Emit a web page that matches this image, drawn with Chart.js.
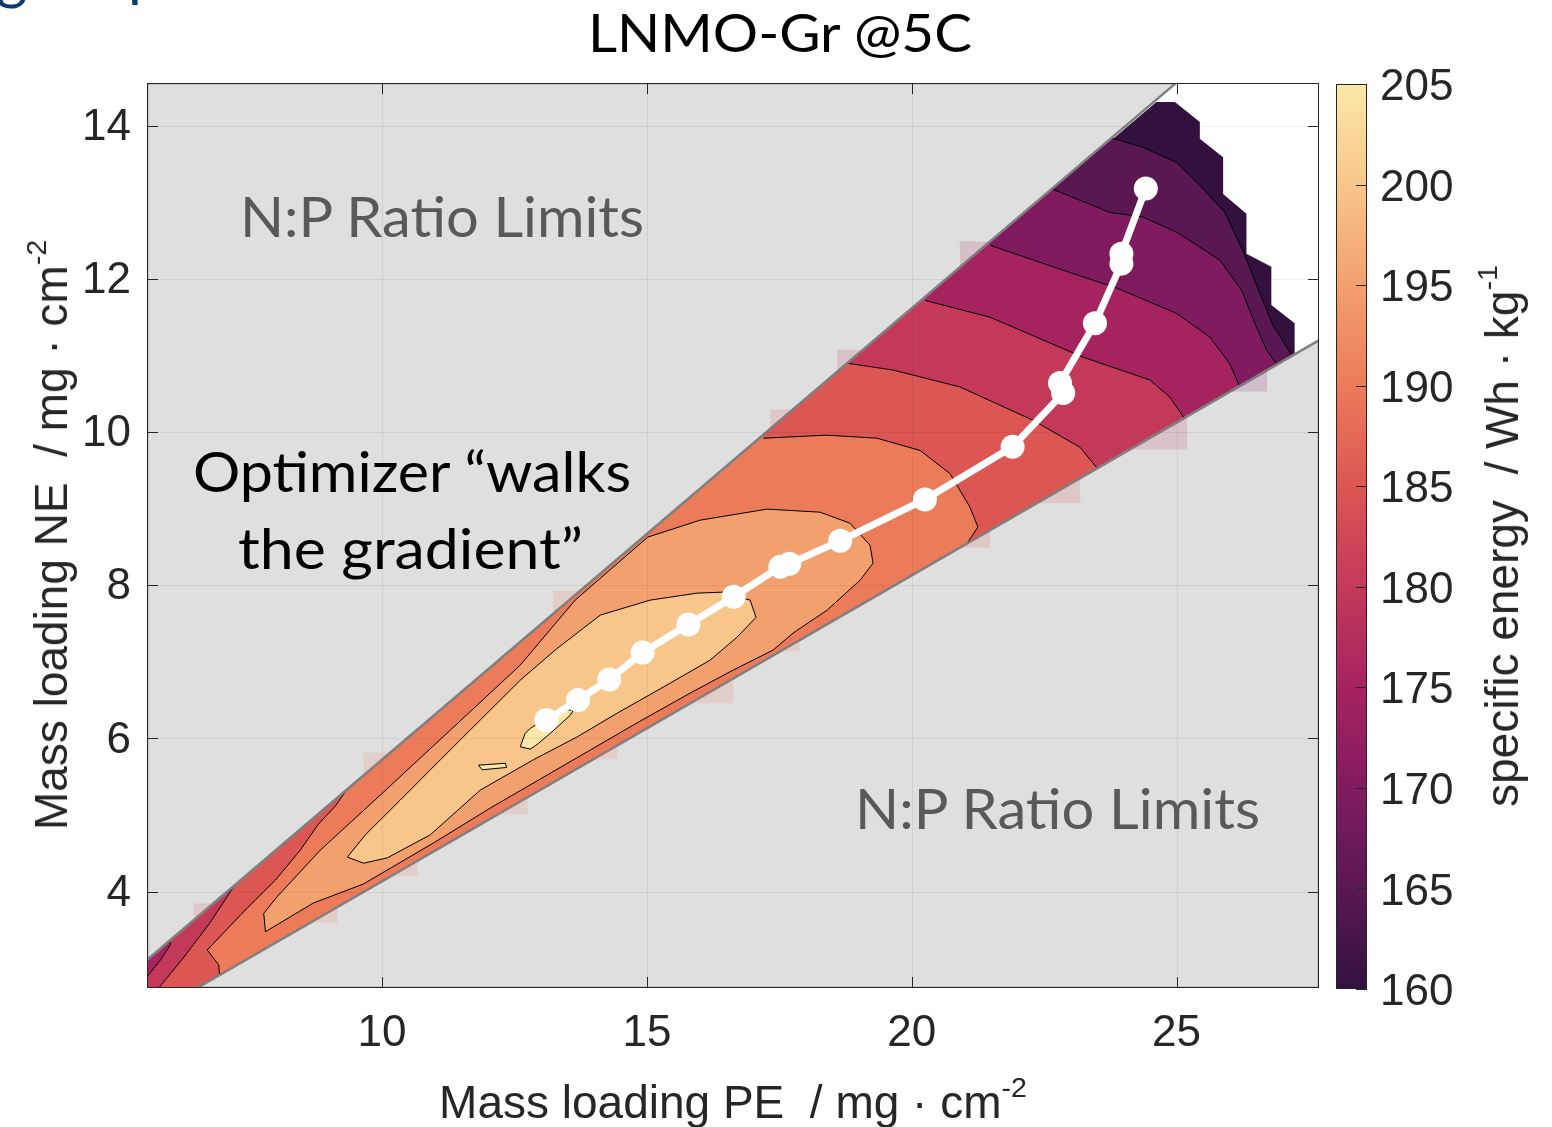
<!DOCTYPE html>
<html>
<head>
<meta charset="utf-8">
<script src="https://cdn.jsdelivr.net/npm/chart.js@4.4.1/dist/chart.umd.min.js"></script>
<style>
  html, body { margin: 0; padding: 0; background: #fff; }
  body { width: 1552px; height: 1127px; position: relative; overflow: hidden; }
  canvas { position: absolute; top: 0; }
  #map { left: 0; }
  #bar { left: 1300px; }
  .lbl { position: absolute; white-space: pre; line-height: 1; transform-origin: 0 0; }
  .cal { font-family: Lato, 'Open Sans', sans-serif; }
  .ax { font-family: 'Liberation Sans', Arial, sans-serif; font-size: 46px; color: #262626; }
  .rot { transform-origin: 50% 50%; transform: translate(-50%, -50%) rotate(-90deg); }
  .sup { font-size: 0.62em; position: relative; top: -0.72em; }
</style>
</head>
<body>
<canvas id="map" width="1552" height="1127"></canvas>
<canvas id="bar" width="252" height="1127"></canvas>

<div class="lbl cal" style="left:-4px; top:-55px; font-size:60px; color:#0b3b6b;">g</div>
<div class="lbl cal" style="left:128px; top:-58px; font-size:60px; color:#0b3b6b;">p</div>

<div class="lbl cal" data-w="384" style="left:588px; top:6px; font-size:52px; color:#000;">LNMO-Gr @5C</div>
<div class="lbl cal" data-w="404" style="left:240px; top:188px; font-size:56px; color:#595959;">N:P Ratio Limits</div>
<div class="lbl cal" data-w="405" style="left:855px; top:780px; font-size:56px; color:#595959;">N:P Ratio Limits</div>
<div class="lbl cal" data-w="438" style="left:193px; top:443px; font-size:56px; color:#000;">Optimizer “walks</div>
<div class="lbl cal" data-w="345" style="left:238px; top:520px; font-size:56px; color:#000;">the gradient”</div>

<div class="lbl ax" style="left:733px; top:1079px; transform:translateX(-50%);">Mass loading PE  / mg · cm<span class="sup">-2</span></div>
<div class="lbl ax rot" style="left:51px; top:535px;">Mass loading NE  / mg · cm<span class="sup">-2</span></div>
<div class="lbl ax rot" style="left:1502px; top:536px;">specific energy  / Wh · kg<span class="sup">-1</span></div>

<script>
// axis limits and ticks
const xMin = 5.562, xMax = 27.69, yMin = 2.74, yMax = 14.559;
const xTicks = [10, 15, 20, 25];
const yTicks = [4, 6, 8, 10, 12, 14];
const cbTicks = [160, 165, 170, 175, 180, 185, 190, 195, 200, 205];

// contour levels (Wh/kg) and their fill colours
const levels = [160, 165, 170, 175, 180, 185, 190, 195, 200, 205];
const levelColors = ['#32113f', '#5a1853', '#811b60', '#a5235f', '#c4395a',
                     '#dc5653', '#ec7b5a', '#f3a06f', '#f8c68a', '#fbe8a8'];

// superlevel regions (PE, NE), one ring per level
const region160 = [[4.0, 2.186], [24.62, 14.31], [24.97, 14.31], [25.44, 14.05], [25.44, 13.83],
  [25.88, 13.59], [25.88, 13.11], [26.32, 12.85], [26.32, 12.33], [26.79, 12.16], [26.79, 11.66],
  [27.23, 11.42], [27.23, 11.03], [4.0, 1.738]];
const region165 = [[23.80, 13.837], [24.36, 13.72], [25.005, 13.52], [25.44, 13.223], [25.91, 12.87],
  [26.25, 12.374], [26.55, 11.852], [26.82, 11.395], [27.18, 11.0], [27.5, 10.3], [4.0, 1.0],
  [4.0, 4.0], [23.4, 14.8]];
const region170 = [[22.67, 13.17], [23.74, 12.87], [24.36, 12.81], [25.005, 12.61], [25.82, 12.245],
  [26.23, 11.85], [26.48, 11.42], [26.70, 11.07], [26.89, 10.89], [27.1, 10.2], [4.0, 1.0], [4.0, 4.0], [22.3, 14.2]];
const region175 = [[21.48, 12.44], [22.855, 12.115], [23.875, 11.88], [25.005, 11.55], [25.63, 11.24],
  [26.00, 10.90], [26.19, 10.60], [26.4, 9.8], [4.0, 1.0], [4.0, 4.0], [21.0, 13.5]];
const region180 = [[20.25, 11.72], [21.48, 11.50], [23.23, 10.98], [24.50, 10.68], [24.875, 10.455],
  [25.12, 10.21], [25.3, 9.5], [7.0, 2.0], [5.40, 2.60], [5.565, 2.89], [5.81, 3.10], [6.0, 3.30],
  [6.0, 4.0], [20.0, 12.5]];
const region185 = [[18.78, 10.90], [19.65, 10.81], [20.91, 10.59], [22.29, 10.155], [23.18, 9.80],
  [23.50, 9.53], [23.6, 9.0], [8.0, 2.0], [5.70, 2.60], [5.785, 2.74], [6.29, 3.17], [6.76, 3.60],
  [7.195, 4.06], [7.6, 5.0], [18.5, 11.5]];
const region190 = [[17.20, 9.92], [18.40, 9.96], [19.345, 9.92], [20.16, 9.76], [20.72, 9.46],
  [21.10, 9.02], [21.25, 8.76], [21.01, 8.51], [21.0, 8.0], [7.0, 2.3], [6.917, 3.04], [6.70, 3.236],
  [7.326, 3.693], [7.987, 4.15], [8.458, 4.542], [8.798, 4.881], [9.119, 5.116], [9.59, 5.586],
  [16.9, 10.5]];
const region195 = [[7.766, 3.715], [8.019, 3.932], [8.836, 4.542], [9.968, 5.26], [11.289, 6.108],
  [12.609, 6.957], [13.647, 7.806], [15.015, 8.628], [16.006, 8.85], [17.27, 8.994], [18.27, 8.954],
  [18.836, 8.81], [19.213, 8.523], [19.27, 8.288], [19.025, 8.066], [18.402, 7.674], [17.76, 7.375],
  [17.383, 7.153], [16.63, 6.892], [15.817, 6.591], [14.874, 6.226], [13.93, 5.847], [12.987, 5.469],
  [12.043, 5.09], [10.968, 4.633], [9.647, 4.098], [8.704, 3.85], [7.798, 3.475]];
const region200 = [[9.345, 4.45], [9.685, 4.74], [10.345, 5.195], [11.10, 5.72], [11.855, 6.24],
  [12.61, 6.76], [13.27, 7.155], [14.12, 7.61], [15.06, 7.805], [15.95, 7.897], [16.44, 7.91],
  [16.95, 7.805], [17.06, 7.58], [16.70, 7.32], [16.19, 7.02], [15.31, 6.67], [14.44, 6.33],
  [13.685, 6.02], [12.855, 5.72], [11.855, 5.325], [10.91, 4.74], [10.10, 4.44], [9.65, 4.37]];
const region205a = [[12.61, 5.89], [12.70, 6.065], [12.80, 6.13], [13.08, 6.26], [13.30, 6.37],
  [13.615, 6.37], [13.55, 6.30], [13.175, 6.065], [12.955, 5.935], [12.80, 5.86]];
const region205b = [[11.82, 5.65], [12.33, 5.675], [12.35, 5.62], [11.89, 5.59]];

// N:P ratio limit patches
const limitUpper = [[xMin, 3.106], [24.99, yMax], [xMin, yMax]];
const limitLower = [[6.509, yMin], [xMax, 11.20], [xMax, yMin]];

// grid-cell corners that bleed past the limit lines: [PE from, PE to, level index]
const haloUpper = [[6.44, 6.815, 5], [9.65, 10.157, 6], [13.23, 13.74, 6], [17.33, 17.76, 5],
                   [18.59, 19.08, 4], [20.91, 21.48, 3]];
const haloLower = [[8.65, 9.16, 6], [10.16, 10.67, 6], [12.18, 12.75, 6], [13.99, 14.44, 6],
                   [15.82, 16.63, 6], [17.52, 17.89, 6], [20.91, 21.48, 5], [22.36, 23.18, 5],
                   [24.12, 25.20, 4], [26.01, 26.71, 2]];

// optimizer iterates
const pathPE = [13.10, 13.70, 14.29, 14.92, 15.785, 16.64, 17.52, 17.69, 18.65, 20.25, 21.905,
                22.86, 22.80, 23.46, 23.96, 23.96, 24.42];
const pathNE = [6.239, 6.50, 6.77, 7.12, 7.488, 7.849, 8.241, 8.28, 8.58, 9.12, 9.807,
                10.51, 10.64, 11.42, 12.20, 12.33, 13.18];

const pts = (ring, close) => {
  const d = ring.map(([x, y]) => ({x, y}));
  if (close) d.push({...d[0]});
  return d;
};
const patch = (ring, color, edge, width, close) => ({
  data: pts(ring, close), showLine: true, fill: 'shape', tension: 0,
  backgroundColor: color, borderColor: edge, borderWidth: width, pointRadius: 0
});
const tint = (hex, a) => {
  const n = parseInt(hex.slice(1), 16);
  return `rgba(${n >> 16},${(n >> 8) & 255},${n & 255},${a})`;
};
const lineAt = (p, q) => x => p[1] + (q[1] - p[1]) / (q[0] - p[0]) * (x - p[0]);
const upperAt = lineAt(limitUpper[0], limitUpper[1]);
const lowerAt = lineAt(limitLower[0], limitLower[1]);

const datasets = [
  patch(region160, levelColors[0], 'rgba(0,0,0,0)', 0, false),
  patch(region165, levelColors[1], '#000', 1, false),
  patch(region170, levelColors[2], '#000', 1, false),
  patch(region175, levelColors[3], '#000', 1, false),
  patch(region180, levelColors[4], '#000', 1, false),
  patch(region185, levelColors[5], '#000', 1, false),
  patch(region190, levelColors[6], '#000', 1, false),
  patch(region195, levelColors[7], '#000', 1, true),
  patch(region200, levelColors[8], '#000', 1, true),
  patch(region205a, levelColors[9], '#000', 1, true),
  patch(region205b, levelColors[9], '#000', 1, true),
  patch(limitUpper, '#dfdfdf', '#808080', 2.5, true),
  patch(limitLower, '#dfdfdf', '#808080', 2.5, true)
];
// cell corners: right angle away from the wedge
haloUpper.forEach(([a, b, k]) => datasets.push(patch(
  [[a, upperAt(a)], [b, upperAt(b)], [a, upperAt(b)]],
  tint(levelColors[k], 0.17), 'rgba(0,0,0,0)', 0, true)));
haloLower.forEach(([a, b, k]) => datasets.push(patch(
  [[a, lowerAt(a)], [b, lowerAt(b)], [b, lowerAt(a)]],
  tint(levelColors[k], 0.17), 'rgba(0,0,0,0)', 0, true)));
datasets.push({
  data: pathPE.map((x, i) => ({x, y: pathNE[i]})), showLine: true, fill: false, tension: 0,
  borderColor: '#fff', borderWidth: 7, pointRadius: 12, pointBorderWidth: 0,
  pointBackgroundColor: '#fff'
});
// first dataset drawn first
datasets.forEach((d, i) => { d.order = datasets.length - i; });
const pathIndex = datasets.length - 1;

Chart.defaults.font.family = "'Liberation Sans', Arial, sans-serif";
Chart.defaults.color = '#262626';

const tickFont = {family: "'Liberation Sans', Arial, sans-serif", size: 44};

// grid under the path, inward ticks and box on top
const frame = {
  id: 'frame',
  beforeDatasetDraw(chart, args) {
    if (args.index !== pathIndex) return;
    const {ctx, chartArea: a, scales: {x, y}} = chart;
    ctx.save();
    ctx.strokeStyle = 'rgba(38,38,38,0.08)';
    ctx.lineWidth = 1;
    ctx.beginPath();
    xTicks.forEach(v => {
      const px = Math.round(x.getPixelForValue(v)) + 0.5;
      ctx.moveTo(px, a.top); ctx.lineTo(px, a.bottom);
    });
    yTicks.forEach(v => {
      const py = Math.round(y.getPixelForValue(v)) + 0.5;
      ctx.moveTo(a.left, py); ctx.lineTo(a.right, py);
    });
    ctx.stroke();
    ctx.restore();
  },
  afterDatasetsDraw(chart) {
    const {ctx, chartArea: a, scales: {x, y}} = chart;
    const len = 11;
    ctx.save();
    ctx.strokeStyle = '#262626';
    ctx.lineWidth = 1;
    ctx.beginPath();
    xTicks.forEach(v => {
      const px = Math.round(x.getPixelForValue(v)) + 0.5;
      ctx.moveTo(px, a.bottom); ctx.lineTo(px, a.bottom - len);
      ctx.moveTo(px, a.top); ctx.lineTo(px, a.top + len);
    });
    yTicks.forEach(v => {
      const py = Math.round(y.getPixelForValue(v)) + 0.5;
      ctx.moveTo(a.left, py); ctx.lineTo(a.left + len, py);
      ctx.moveTo(a.right, py); ctx.lineTo(a.right - len, py);
    });
    ctx.stroke();
    ctx.strokeRect(a.left + 0.5, a.top + 0.5, a.width - 1, a.height - 1);
    ctx.restore();
  }
};

new Chart(document.getElementById('map'), {
  type: 'scatter',
  data: {datasets},
  options: {
    responsive: false,
    animation: false,
    events: [],
    layout: {padding: {left: 0, top: 83, right: 233, bottom: 0}},
    plugins: {legend: {display: false}, tooltip: {enabled: false}},
    scales: {
      x: {
        type: 'linear', min: xMin, max: xMax,
        afterBuildTicks: s => { s.ticks = xTicks.map(v => ({value: v})); },
        afterFit: s => { s.height = 139; },
        grid: {display: false, drawTicks: false},
        border: {display: false},
        ticks: {font: tickFont, color: '#262626', padding: 19, maxRotation: 0, autoSkip: false}
      },
      y: {
        type: 'linear', min: yMin, max: yMax,
        afterBuildTicks: s => { s.ticks = yTicks.map(v => ({value: v})); },
        afterFit: s => { s.width = 147; },
        grid: {display: false, drawTicks: false},
        border: {display: false},
        ticks: {font: tickFont, color: '#262626', padding: 16, labelOffset: 2, autoSkip: false}
      }
    }
  },
  plugins: [frame]
});

// colour bar
const barTicks = {
  id: 'barTicks',
  afterDatasetsDraw(chart) {
    const {ctx, chartArea: a, scales: {y}} = chart;
    ctx.save();
    ctx.strokeStyle = '#262626';
    ctx.lineWidth = 1;
    ctx.beginPath();
    cbTicks.forEach(v => {
      const py = Math.round(y.getPixelForValue(v)) + 0.5;
      ctx.moveTo(a.right, py); ctx.lineTo(a.right - 11, py);
    });
    ctx.stroke();
    ctx.strokeRect(a.left + 0.5, a.top + 0.5, a.width - 1, a.height - 1);
    ctx.restore();
  }
};

new Chart(document.getElementById('bar'), {
  type: 'bar',
  data: {
    labels: [''],
    datasets: [{
      data: [[levels[0], levels[levels.length - 1]]],
      barPercentage: 1, categoryPercentage: 1, borderWidth: 0,
      backgroundColor: c => {
        const ch = c.chart;
        if (!ch.chartArea) return levelColors[0];
        const y = ch.scales.y;
        const lo = levels[0], hi = levels[levels.length - 1];
        const g = ch.ctx.createLinearGradient(0, y.getPixelForValue(lo), 0, y.getPixelForValue(hi));
        levels.forEach((v, i) => g.addColorStop((v - lo) / (hi - lo), levelColors[i]));
        return g;
      }
    }]
  },
  options: {
    responsive: false,
    animation: false,
    events: [],
    layout: {padding: {left: 36, top: 84, right: 0, bottom: 138}},
    plugins: {legend: {display: false}, tooltip: {enabled: false}},
    scales: {
      x: {display: false},
      y: {
        position: 'right', min: 160, max: 205,
        afterBuildTicks: s => { s.ticks = cbTicks.map(v => ({value: v})); },
        afterFit: s => { s.width = 185; },
        grid: {display: false, drawTicks: false},
        border: {display: false},
        ticks: {font: tickFont, color: '#262626', padding: 13, labelOffset: 4, autoSkip: false}
      }
    }
  },
  plugins: [barTicks]
});

// squeeze the annotation lines to their set widths
document.querySelectorAll('[data-w]').forEach(el => {
  const w = el.getBoundingClientRect().width;
  el.style.transform = 'scaleX(' + (el.dataset.w / w) + ')';
});
</script>
</body>
</html>
